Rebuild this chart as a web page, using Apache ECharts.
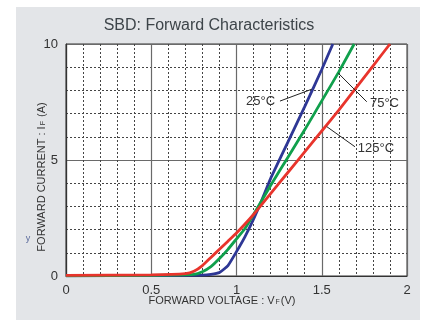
<!DOCTYPE html>
<html>
<head>
<meta charset="utf-8">
<script src="https://cdn.jsdelivr.net/npm/echarts@6/dist/echarts.min.js"></script>
<style>
  html, body { margin: 0; padding: 0; background: #fff; }
  #chart { width: 430px; height: 320px; }
</style>
</head>
<body>
<div id="chart"></div>
<script>
// forward characteristics, [VF (V), IF (A)]
const curve25 = [[0, 0.01], [0.5, 0.02], [0.8, 0.04], [0.85, 0.07], [0.9, 0.15], [0.95, 0.45], [1.0, 1.05], [1.05, 1.7], [1.1, 2.45], [1.15, 3.3], [1.2, 4.2], [1.3, 5.75], [1.4, 7.3], [1.5, 8.9], [1.565, 10]];
const curve75 = [[0, 0.01], [0.5, 0.03], [0.75, 0.07], [0.8, 0.18], [0.85, 0.4], [0.9, 0.75], [0.95, 1.15], [1.0, 1.6], [1.05, 2.05], [1.1, 2.65], [1.2, 3.9], [1.3, 5.1], [1.4, 6.3], [1.5, 7.55], [1.6, 8.8], [1.69, 10]];
const curve125 = [[0, 0.03], [0.5, 0.05], [0.7, 0.1], [0.75, 0.2], [0.8, 0.45], [0.85, 0.8], [0.9, 1.15], [0.95, 1.5], [1.0, 1.85], [1.1, 2.65], [1.2, 3.55], [1.3, 4.45], [1.4, 5.35], [1.5, 6.25], [1.6, 7.15], [1.7, 8.1], [1.8, 9.05], [1.9, 10]];
const tempLabels = ['25°C', '75°C', '125°C'];
// leader lines: [point on curve, point at label]
const leader25 = [[1.441, 8.05], [1.255, 7.54]];
const leader75 = [[1.597, 8.74], [1.764, 7.51]];
const leader125 = [[1.529, 6.44], [1.695, 5.57]];

const chart = echarts.init(document.getElementById('chart'));

const leader = (pts) => ({
  silent: true,
  symbol: 'none',
  lineStyle: { color: '#222', width: 1, type: 'solid' },
  label: { show: false },
  emphasis: { disabled: true },
  data: [[{ coord: pts[0] }, { coord: pts[1] }]]
});
const tag = (pt, text, side) => ({
  silent: true,
  symbol: 'circle',
  symbolSize: 0,
  label: {
    show: true,
    position: side,
    distance: 2,
    formatter: text,
    color: '#333',
    fontSize: 13,
    fontFamily: 'Liberation Sans'
  },
  data: [{ coord: pt }]
});

const line = (name, data, color, lbl) => ({
  name: name,
  type: 'line',
  data: data,
  smooth: 0.15,
  showSymbol: false,
  lineStyle: { color: color, width: 2.8 },
  z: 3,
  markLine: leader(lbl[0]),
  markPoint: tag(lbl[1], lbl[2], lbl[3])
});

const subRich = {
  a: { fontSize: 11, fill: '#333', fontFamily: 'Liberation Sans' },
  s: { fontSize: 7, fill: '#333', fontFamily: 'Liberation Sans', padding: [3, 1, 0, 1] }
};

const option = {
  animation: false,
  backgroundColor: '#fff',
  graphic: [
    { type: 'rect', z: -10, shape: { x: 16, y: 7, width: 404, height: 320 }, style: { fill: '#e3e5e8' } },
    { type: 'text', x: 209, y: 26,
      style: { text: 'SBD: Forward Characteristics', fill: '#3d4449', font: '16px "Liberation Sans"', align: 'center', verticalAlign: 'middle' } },
    { type: 'text', x: 42, y: 177, rotation: Math.PI / 2,
      style: { text: '{a|FORWARD CURRENT : I}{s|F}{a| (A)}', align: 'center', verticalAlign: 'middle', rich: subRich } },
    { type: 'text', x: 222, y: 301,
      style: { text: '{a|FORWARD VOLTAGE : V}{s|F}{a|(V)}', align: 'center', verticalAlign: 'middle', rich: subRich } },
    { type: 'text', x: 28, y: 239,
      style: { text: 'y', fill: '#5b6b9c', font: '9px "Liberation Sans"', align: 'center', verticalAlign: 'middle' } }
  ],
  grid: {
    left: 66, right: 23, top: 44, bottom: 44,
    show: true, backgroundColor: '#fff', borderColor: '#333', borderWidth: 1
  },
  xAxis: {
    type: 'value', min: 0, max: 2, interval: 0.5,
    axisLine: { show: true, lineStyle: { color: '#333', width: 1.2 } },
    axisTick: { show: false },
    axisLabel: { color: '#333', fontSize: 13, fontFamily: 'Liberation Sans', margin: 8 },
    splitLine: { show: true, lineStyle: { color: '#6a6a6a', width: 1.2 } },
    minorTick: { show: false, splitNumber: 5 },
    minorSplitLine: { show: true, lineStyle: { color: '#444', width: 1, type: [2, 2] } }
  },
  yAxis: {
    type: 'value', min: 0, max: 10, interval: 5,
    axisLine: { show: true, lineStyle: { color: '#333', width: 1.2 } },
    axisTick: { show: false },
    axisLabel: { color: '#333', fontSize: 13, fontFamily: 'Liberation Sans', margin: 8 },
    splitLine: { show: true, lineStyle: { color: '#6a6a6a', width: 1.2 } },
    minorTick: { show: false, splitNumber: 5 },
    minorSplitLine: { show: true, lineStyle: { color: '#444', width: 1, type: [2, 2] } }
  },
  series: [
    line('25', curve25, '#2e3795', [leader25, [1.238, 7.51], tempLabels[0], 'left']),
    line('75', curve75, '#10a04c', [leader75, [1.771, 7.46], tempLabels[1], 'right']),
    line('125', curve125, '#e8342c', [leader125, [1.70, 5.52], tempLabels[2], 'right'])
  ]
};

chart.setOption(option);
</script>
</body>
</html>
